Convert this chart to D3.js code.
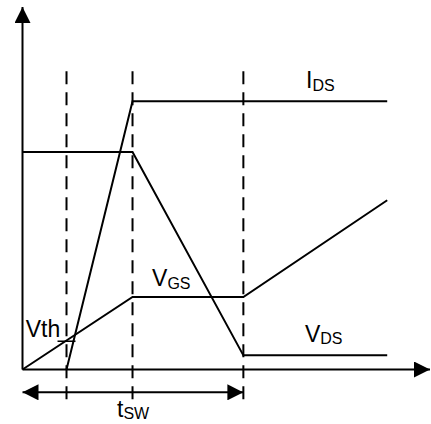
<!DOCTYPE html>
<html>
<head>
<meta charset="utf-8">
<script src="https://cdn.jsdelivr.net/npm/d3@7"></script>
<style>
  body { margin: 0; background: #fff; }
  text { font-family: "Liberation Sans", Arial, sans-serif; fill: #000; }
</style>
</head>
<body>
<div id="chart"></div>
<script>
//svg size
let svgWidth = 431;
let svgHeight = 424;

//switching time points (arbitrary time units)
let tOrigin = 0;
let tVth = 1.08;
let tRise = 2.7;
let tFall = 5.42;
let tEnd = 8.95;
let tAxisEnd = 10;

//signal levels (arbitrary units)
let idsTime = [tVth, tRise, tEnd];
let idsValue = [0, 7.4, 7.4];

let vdsTime = [tOrigin, tRise, tFall, tEnd];
let vdsValue = [6.0, 6.0, 0.39, 0.39];

let vgsTime = [tOrigin, tRise, tFall, tEnd];
let vgsValue = [0, 2.0, 2.0, 4.67];

let vthLevel = 0.78;
let markerTimes = [tVth, tRise, tFall];
let markerTop = 8.23;
let yAxisTop = 10;

//labels: main text, subscript, position in time/level units
let labelText = [
  { main: "I", sub: "DS", t: 6.96, v: 7.76 },
  { main: "V", sub: "GS", t: 3.18, v: 2.3 },
  { main: "V", sub: "DS", t: 6.93, v: 0.77 },
  { main: "Vth", sub: "", t: 0.08, v: 0.9 },
  { main: "t", sub: "SW", t: 2.32, v: -1.31 }
];

//scales
let x = d3.scaleLinear().domain([0, tAxisEnd]).range([22.5, 430]);
let y = d3.scaleLinear().domain([0, yAxisTop]).range([369.5, 7]);

let svg = d3
  .select("#chart")
  .append("svg")
  .attr("width", svgWidth)
  .attr("height", svgHeight);

let defs = svg.append("defs");
defs.append("marker")
  .attr("id", "head")
  .attr("viewBox", "0 0 16 16")
  .attr("refX", 16)
  .attr("refY", 8)
  .attr("markerWidth", 16)
  .attr("markerHeight", 16)
  .attr("markerUnits", "userSpaceOnUse")
  .attr("orient", "auto-start-reverse")
  .append("path")
  .attr("d", "M0,0 L16,8 L0,16 Z")
  .attr("fill", "#000");

let line = d3.line().x((d) => x(d[0])).y((d) => y(d[1]));

/********************************************/
//dashed time markers
svg.selectAll(".marker")
  .data(markerTimes)
  .enter()
  .append("line")
  .attr("class", "marker")
  .attr("x1", (d) => x(d))
  .attr("x2", (d) => x(d))
  .attr("y1", y(markerTop))
  .attr("y2", y(-0.85))
  .attr("stroke", "#000")
  .attr("stroke-width", 2)
  .attr("stroke-dasharray", "13,8");

/********************************************/
//axes
svg.append("line")
  .attr("x1", x(0)).attr("y1", y(0))
  .attr("x2", x(0)).attr("y2", y(yAxisTop))
  .attr("stroke", "#000").attr("stroke-width", 2)
  .attr("marker-end", "url(#head)");

svg.append("line")
  .attr("x1", x(0)).attr("y1", y(0))
  .attr("x2", x(tAxisEnd)).attr("y2", y(0))
  .attr("stroke", "#000").attr("stroke-width", 2)
  .attr("marker-end", "url(#head)");

//switching time double arrow
svg.append("line")
  .attr("x1", x(tOrigin)).attr("y1", y(-0.63))
  .attr("x2", x(tFall)).attr("y2", y(-0.63))
  .attr("stroke", "#000").attr("stroke-width", 2)
  .attr("marker-start", "url(#head)")
  .attr("marker-end", "url(#head)");

/********************************************/
//waveforms
let series = [
  d3.zip(idsTime, idsValue),
  d3.zip(vdsTime, vdsValue),
  d3.zip(vgsTime, vgsValue)
];

svg.selectAll(".wave")
  .data(series)
  .enter()
  .append("path")
  .attr("class", "wave")
  .attr("d", line)
  .attr("fill", "none")
  .attr("stroke", "#000")
  .attr("stroke-width", 2);

//Vth tick
svg.append("line")
  .attr("x1", x(tVth) - 9).attr("x2", x(tVth) + 9)
  .attr("y1", y(vthLevel)).attr("y2", y(vthLevel))
  .attr("stroke", "#000").attr("stroke-width", 1.5);

/********************************************/
//labels
let labels = svg.selectAll(".lbl")
  .data(labelText)
  .enter()
  .append("text")
  .attr("class", "lbl")
  .attr("x", (d) => x(d.t))
  .attr("y", (d) => y(d.v))
  .attr("font-size", "23px");

labels.append("tspan").text((d) => d.main);
labels.append("tspan")
  .attr("font-size", "16px")
  .attr("dy", 2.5)
  .text((d) => d.sub);
</script>
</body>
</html>
